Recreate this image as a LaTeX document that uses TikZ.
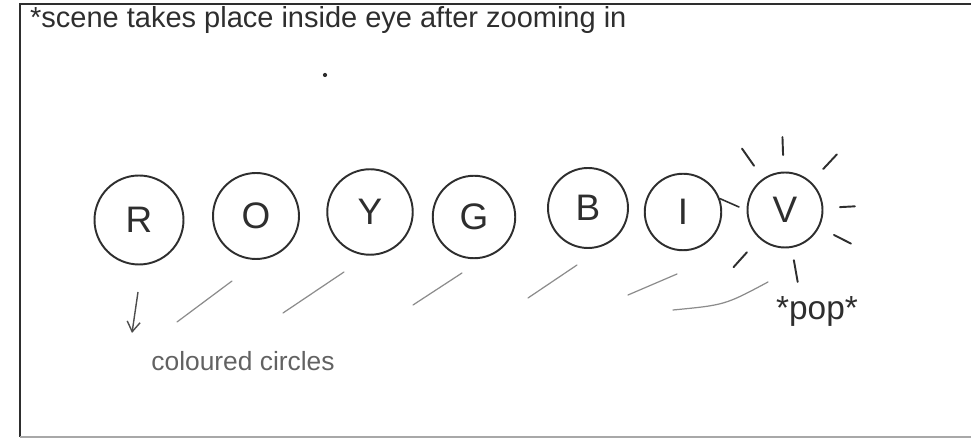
\documentclass[tikz,border=0pt]{standalone}
\usepackage{fontspec}
\setmainfont{Liberation Sans}
\usetikzlibrary{arrows.meta,calc}
\definecolor{ink}{HTML}{2E2E2E}
\definecolor{pencil}{HTML}{8C8C8C}
\definecolor{cadreC}{HTML}{A8A8A8}
\tikzset{
  disc/.style={circle, draw=ink, line width=1.1pt, inner sep=0pt, minimum size=#1,
               font=\fontsize{21}{24}\selectfont, text=ink},
  trail/.style={line width=0.7pt, draw=pencil, line cap=round},
  ray/.style={line width=1.1pt, draw=ink, line cap=round},
  arr/.style={-{Straight Barb[length=2mm,width=2.6mm]}, line width=0.8pt, draw=ink!85},
}

\begin{document}
\begin{tikzpicture}[x=0.02cm,y=-0.02cm]
    \useasboundingbox (0,0) rectangle (971,438);
    % frame
    \draw[line width=1.4pt, draw=ink] (971,4) -- (20,4) -- (20,437);
    \draw[line width=1pt, draw=cadreC] (20,437) -- (971,437);
    \node[anchor=west, font=\fontsize{16.5}{18}\selectfont, text=ink] (titre) at (24,20) {*scene takes place inside eye after zooming in};
    \fill[ink] (325,75) circle (1.2pt);
    % circles
    \node[disc=1.78cm] (r) at (139,220) {R};
    \node[disc=1.72cm] (o) at (256,216) {O};
    \node[disc=1.71cm] (y) at (370,212) {Y};
    \node[disc=1.65cm] (g) at (474,217) {G};
    \node[disc=1.60cm] (b) at (588,208) {B};
    \node[disc=1.53cm] (i) at (683,212) {I};
    \node[disc=1.50cm] (v) at (785,210) {V};
    \coordinate (nub) at (739,207);
    \draw[ray, line width=0.9pt] (i.20) -- (nub);
    % rays round V
    \foreach \a/\ri/\ro in {125/1.08/1.50, 92/1.10/1.46, 47/1.12/1.52, 3/1.10/1.40, -27/1.10/1.48, 228/1.14/1.54, -80/1.02/1.46}
      \draw[ray] ($(v)+(\a:\ri cm)$) -- ($(v)+(\a:\ro cm)$);
    \node[font=\fontsize{19}{22}\selectfont, text=ink] (pop) at (817,311) {*pop*};
    % trails
    \foreach \xa/\ya/\xb/\yb in {177/322/232/281, 283/313/344/272, 413/305/462/273, 528/298/577/265, 628/295/677/274}
      \draw[trail] (\xa,\ya) -- (\xb,\yb);
    \draw[trail] (673,310) .. controls (725,305) .. (768,282);
    % label
    \coordinate (queue) at (138,292);
    \coordinate (pointe) at (132,333);
    \draw[arr] (queue) -- (pointe);
    \node[font=\fontsize{15}{18}\selectfont, text=ink!75] (legende) at (243,361) {coloured circles};
  \end{tikzpicture}
\end{document}
